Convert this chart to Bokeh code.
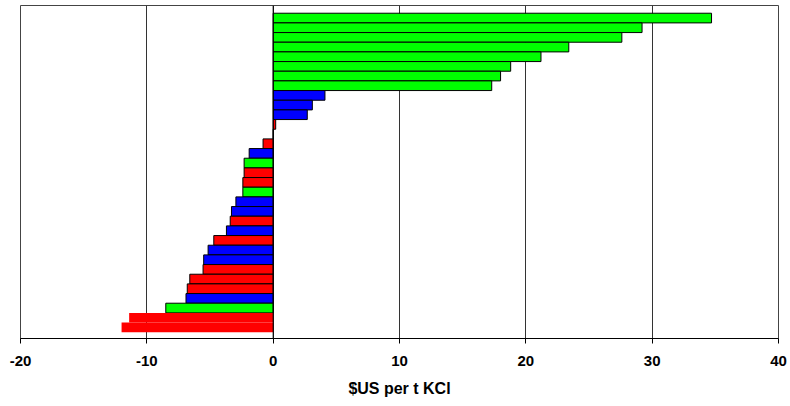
from bokeh.plotting import figure
from bokeh.models import Range1d, FixedTicker, Span, ColumnDataSource, CustomJSTickFormatter
from bokeh.embed import file_html
from bokeh.resources import INLINE

# Bars listed from top to bottom
values = [34.7, 29.2, 27.6, 23.4, 21.2, 18.8, 18.0, 17.3,
          4.1, 3.1, 2.7, 0.2, 0.0,
          -0.8, -1.9, -2.3, -2.3, -2.4, -2.4, -2.95, -3.3, -3.4, -3.7,
          -4.7, -5.15, -5.5, -5.55, -6.6, -6.8, -6.9, -8.5, -11.4, -12.0]
groups = ["G", "G", "G", "G", "G", "G", "G", "G",
          "B", "B", "B", "R", "R",
          "R", "B", "G", "R", "R", "G", "B", "B", "R", "B",
          "R", "B", "B", "R", "R", "R", "B", "G", "R", "R"]
x_ticks = [-20, -10, 0, 10, 20, 30, 40]
x_title = "$US per t KCl"

palette = {"G": "#00FF00", "B": "#0000FF", "R": "#FF0000"}
n = len(values)
ys = [n - i for i in range(n)]
fills = [palette[g] for g in groups]
alphas = [1.0 if v > -10 else 0.0 for v in values]

src = ColumnDataSource(dict(y=ys, right=values, fill=fills, la=alphas))

p = figure(width=788, height=400, output_backend="svg", toolbar_location=None,
           x_range=Range1d(-20, 40), y_range=Range1d(-0.15, n + 1.3),
           min_border_left=20, min_border_right=10, min_border_top=5,
           min_border_bottom=62)

p.hbar(y="y", left=0, right="right", height=1.0, source=src,
       fill_color="fill", line_color="black", line_alpha="la", line_width=1)

p.add_layout(Span(location=0, dimension="height", line_color="black", line_width=1))

p.yaxis.visible = False
p.ygrid.visible = False
p.xgrid.ticker = FixedTicker(ticks=x_ticks)
p.xgrid.grid_line_color = "#333333"
p.xgrid.grid_line_width = 1
p.xaxis.ticker = FixedTicker(ticks=x_ticks)
p.xaxis.formatter = CustomJSTickFormatter(code="return String(tick);")
p.xaxis.axis_line_color = "black"
p.xaxis.major_tick_out = 5
p.xaxis.major_tick_in = 0
p.xaxis.minor_tick_line_color = None
p.xaxis.major_label_text_font = "Liberation Sans"
p.xaxis.major_label_text_font_style = "bold"
p.xaxis.major_label_text_font_size = "15px"
p.xaxis.major_label_text_color = "black"
p.xaxis.major_label_standoff = 12
p.xaxis.axis_label = x_title
p.xaxis.axis_label_text_font = "Liberation Sans"
p.xaxis.axis_label_text_font_style = "bold"
p.xaxis.axis_label_text_font_size = "16px"
p.xaxis.axis_label_text_color = "black"
p.xaxis.axis_label_standoff = 11
p.outline_line_color = "#444444"
p.outline_line_width = 1
p.background_fill_color = "white"
p.border_fill_color = "white"

open("out.html", "w").write(file_html(p, INLINE))
